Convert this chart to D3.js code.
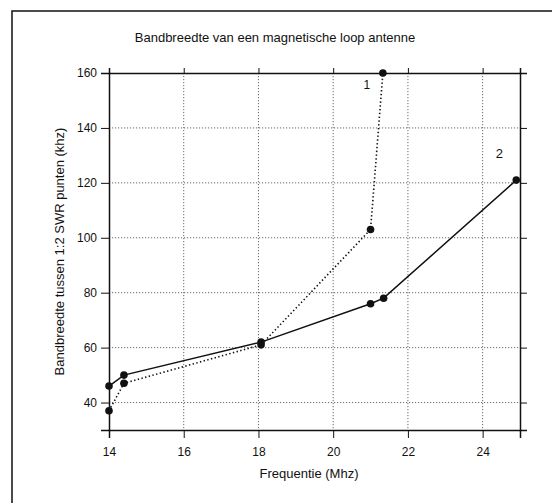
<!DOCTYPE html>
<html><head><meta charset="utf-8">
<script src="https://cdn.jsdelivr.net/npm/d3@7"></script>
<style>
body{margin:0;background:#fff;}
svg text{font-family:"Liberation Sans",Arial,Helvetica,sans-serif;fill:#111;}
</style></head><body>
<svg id="chart" width="552" height="503"></svg>
<script>
const title = "Bandbreedte van een magnetische loop antenne";
const xLabel = "Frequentie (Mhz)";
const yLabel = "Bandbreedte tussen 1:2 SWR punten (khz)";
const xTicks = [14, 16, 18, 20, 22, 24];
const yTicks = [40, 60, 80, 100, 120, 140, 160];
const series1X = [14.0, 14.4, 18.07, 21.0, 21.33];
const series1Y = [37, 47, 61, 103, 160];
const series2X = [14.0, 14.4, 18.07, 21.0, 21.35, 24.9];
const series2Y = [46, 50, 62, 76, 78, 121];
const seriesNames = ["1", "2"];

const svg = d3.select("#chart");
const L = 109, R = 520, T = 73, B = 430;
const x = d3.scaleLinear().domain([14, 25]).range([L, R]);
const y = d3.scaleLinear().domain([30, 160]).range([B, T]);

// outer frame
svg.append("rect").attr("x", 12).attr("y", 11).attr("width", 560).attr("height", 520)
  .attr("fill", "none").attr("stroke", "#111").attr("stroke-width", 1.5);

svg.append("text").attr("x", 275).attr("y", 42).attr("text-anchor", "middle")
  .attr("font-size", 13).text(title);

// grid
const grid = svg.append("g").attr("stroke", "#444").attr("stroke-width", 0.8).attr("stroke-dasharray", "1.2,1.8");
grid.selectAll(".gx").data(xTicks.filter(d => d > 14)).enter().append("line")
  .attr("x1", d => x(d)).attr("x2", d => x(d)).attr("y1", T).attr("y2", B);
grid.selectAll(".gy").data(yTicks.filter(d => d < 160)).enter().append("line")
  .attr("x1", L).attr("x2", R).attr("y1", d => y(d)).attr("y2", d => y(d));

// axes
const fmt = d3.format("d");
const gB = svg.append("g").attr("transform", `translate(0,${B})`)
  .call(d3.axisBottom(x).tickValues(xTicks).tickSize(8).tickPadding(9).tickFormat(fmt));
const gT = svg.append("g").attr("transform", `translate(0,${T})`)
  .call(d3.axisTop(x).tickValues(xTicks).tickSize(5).tickFormat(""));
const gL = svg.append("g").attr("transform", `translate(${L},0)`)
  .call(d3.axisLeft(y).tickValues(yTicks).tickSize(8).tickPadding(4).tickFormat(fmt));
const gR = svg.append("g").attr("transform", `translate(${R},0)`)
  .call(d3.axisRight(y).tickValues(yTicks).tickSize(7).tickFormat(""));
[gB, gT, gL, gR].forEach(g => {
  g.select(".domain").attr("stroke", "#111").attr("stroke-width", 1.5);
  g.selectAll(".tick line").attr("stroke", "#111").attr("stroke-width", 1);
  g.selectAll(".tick text").attr("font-size", 12).attr("fill", "#111")
    .attr("font-family", "Liberation Sans,Arial,sans-serif");
});

svg.append("text").attr("x", 309).attr("y", 478).attr("text-anchor", "middle")
  .attr("font-size", 13).text(xLabel);
svg.append("text").attr("transform", `translate(64,${(T + B) / 2}) rotate(-90)`)
  .attr("text-anchor", "middle").attr("font-size", 13).text(yLabel);

// series
const d1 = series1X.map((v, i) => [v, series1Y[i]]);
const d2 = series2X.map((v, i) => [v, series2Y[i]]);
const line = d3.line().x(d => x(d[0])).y(d => y(d[1]));
svg.append("path").datum(d1).attr("d", line).attr("fill", "none")
  .attr("stroke", "#111").attr("stroke-width", 1.6).attr("stroke-dasharray", "1.4,2.4");
svg.append("path").datum(d2).attr("d", line).attr("fill", "none")
  .attr("stroke", "#111").attr("stroke-width", 1.5);
svg.append("g").selectAll("circle").data(d1.concat(d2)).enter().append("circle")
  .attr("cx", d => x(d[0])).attr("cy", d => y(d[1])).attr("r", 3.8).attr("fill", "#111");

// series labels
svg.append("text").attr("x", x(20.9)).attr("y", y(154)).attr("font-size", 12)
  .attr("text-anchor", "middle").text(seriesNames[0]);
svg.append("text").attr("x", x(24.45)).attr("y", y(129)).attr("font-size", 13)
  .attr("text-anchor", "middle").text(seriesNames[1]);
</script>
</body></html>
